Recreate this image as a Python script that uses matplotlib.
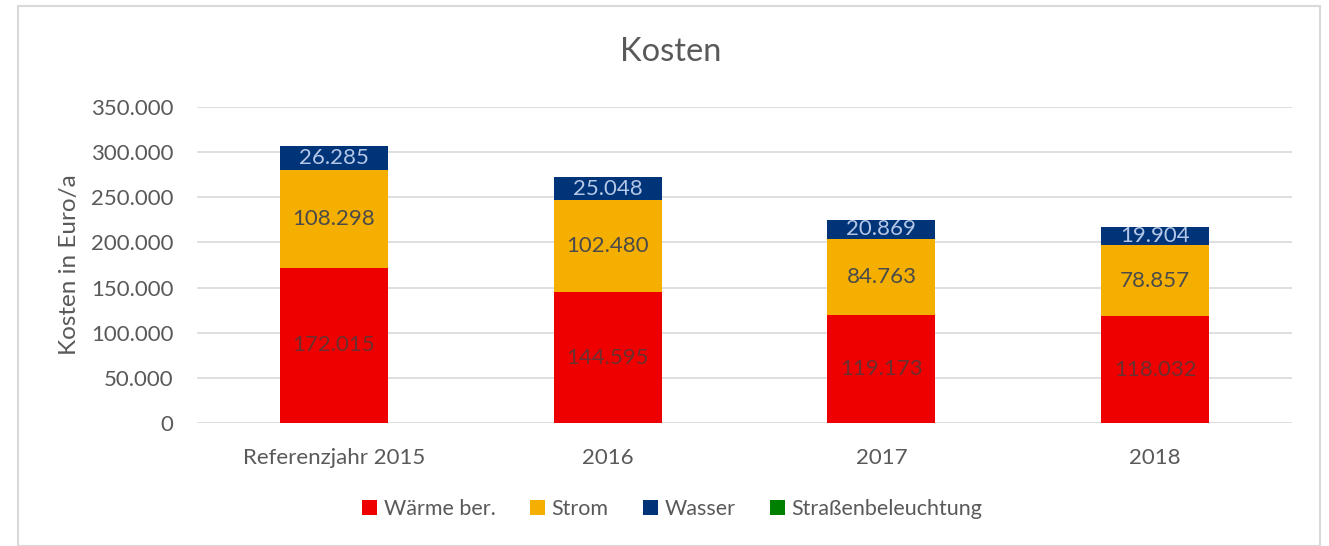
import matplotlib
matplotlib.use("Agg")
import matplotlib.pyplot as plt
from matplotlib.patches import Rectangle
import numpy as np

categories = ["Referenzjahr 2015", "2016", "2017", "2018"]
waerme = [172015, 144595, 119173, 118032]
strom = [108298, 102480, 84763, 78857]
wasser = [26285, 25048, 20869, 19904]
strasse = [0, 0, 0, 0]
series_names = ["Wärme ber.", "Strom", "Wasser", "Straßenbeleuchtung"]
yticks = [0, 50000, 100000, 150000, 200000, 250000, 300000, 350000]

colors = ["#EE0000", "#F5AF00", "#003478", "#008000"]
label_colors = ["#6a3030", "#4a4a4a", "#b4c7e7", "#4a4a4a"]

plt.rcParams['font.family'] = ['Lato', 'DejaVu Sans']

fig = plt.figure(figsize=(13.29, 5.46), dpi=100)
ax = fig.add_axes([0.1482, 0.2253, 0.824, 0.5788])

def fmt(v):
    return f"{v:,.0f}".replace(",", ".")

x = np.arange(len(categories))
bottom = np.zeros(len(categories))
all_series = [waerme, strom, wasser, strasse]
for vals, name, col, lc in zip(all_series, series_names, colors, label_colors):
    vals = np.array(vals, dtype=float)
    ax.bar(x, vals, width=0.395, bottom=bottom, color=col, label=name, zorder=3)
    for xi, b, v in zip(x, bottom, vals):
        if v > 0:
            ax.text(xi, b + v / 2, fmt(v), ha="center", va="center",
                    fontsize=16, color=lc, zorder=4)
    bottom += vals

ax.set_xlim(-0.5, len(categories) - 0.5)
ax.set_ylim(0, 350000)
ax.set_yticks(yticks)
ax.set_yticklabels([fmt(v) for v in yticks], fontsize=16, color="#595959")
ax.set_xticks(x)
ax.set_xticklabels(categories, fontsize=16, color="#595959")
ax.tick_params(axis="both", length=0)
ax.tick_params(axis="x", pad=18)
ax.tick_params(axis="y", pad=17)
ax.yaxis.grid(True, color="#d9d9d9", linewidth=1.2, zorder=0)
for s in ax.spines.values():
    s.set_visible(False)
ax.set_ylabel("Kosten in Euro/a", fontsize=17.5, color="#595959", labelpad=8)

fig.text(0.505, 0.905, "Kosten", ha="center", va="center", fontsize=23.5, color="#595959")

leg = fig.legend(loc="center", bbox_to_anchor=(0.506, 0.067), ncol=4, frameon=False,
                 fontsize=15.5, handlelength=0.7, handleheight=0.7, handletextpad=0.3,
                 columnspacing=1.6)
for t in leg.get_texts():
    t.set_color("#595959")

fig.patches.append(Rectangle((18 / 1329, 0), (1320 - 18) / 1329, 1 - 6 / 546,
                             transform=fig.transFigure, fill=False,
                             edgecolor="#d9d9d9", linewidth=1.5))

fig.savefig("out.png", dpi=100, facecolor="white")
